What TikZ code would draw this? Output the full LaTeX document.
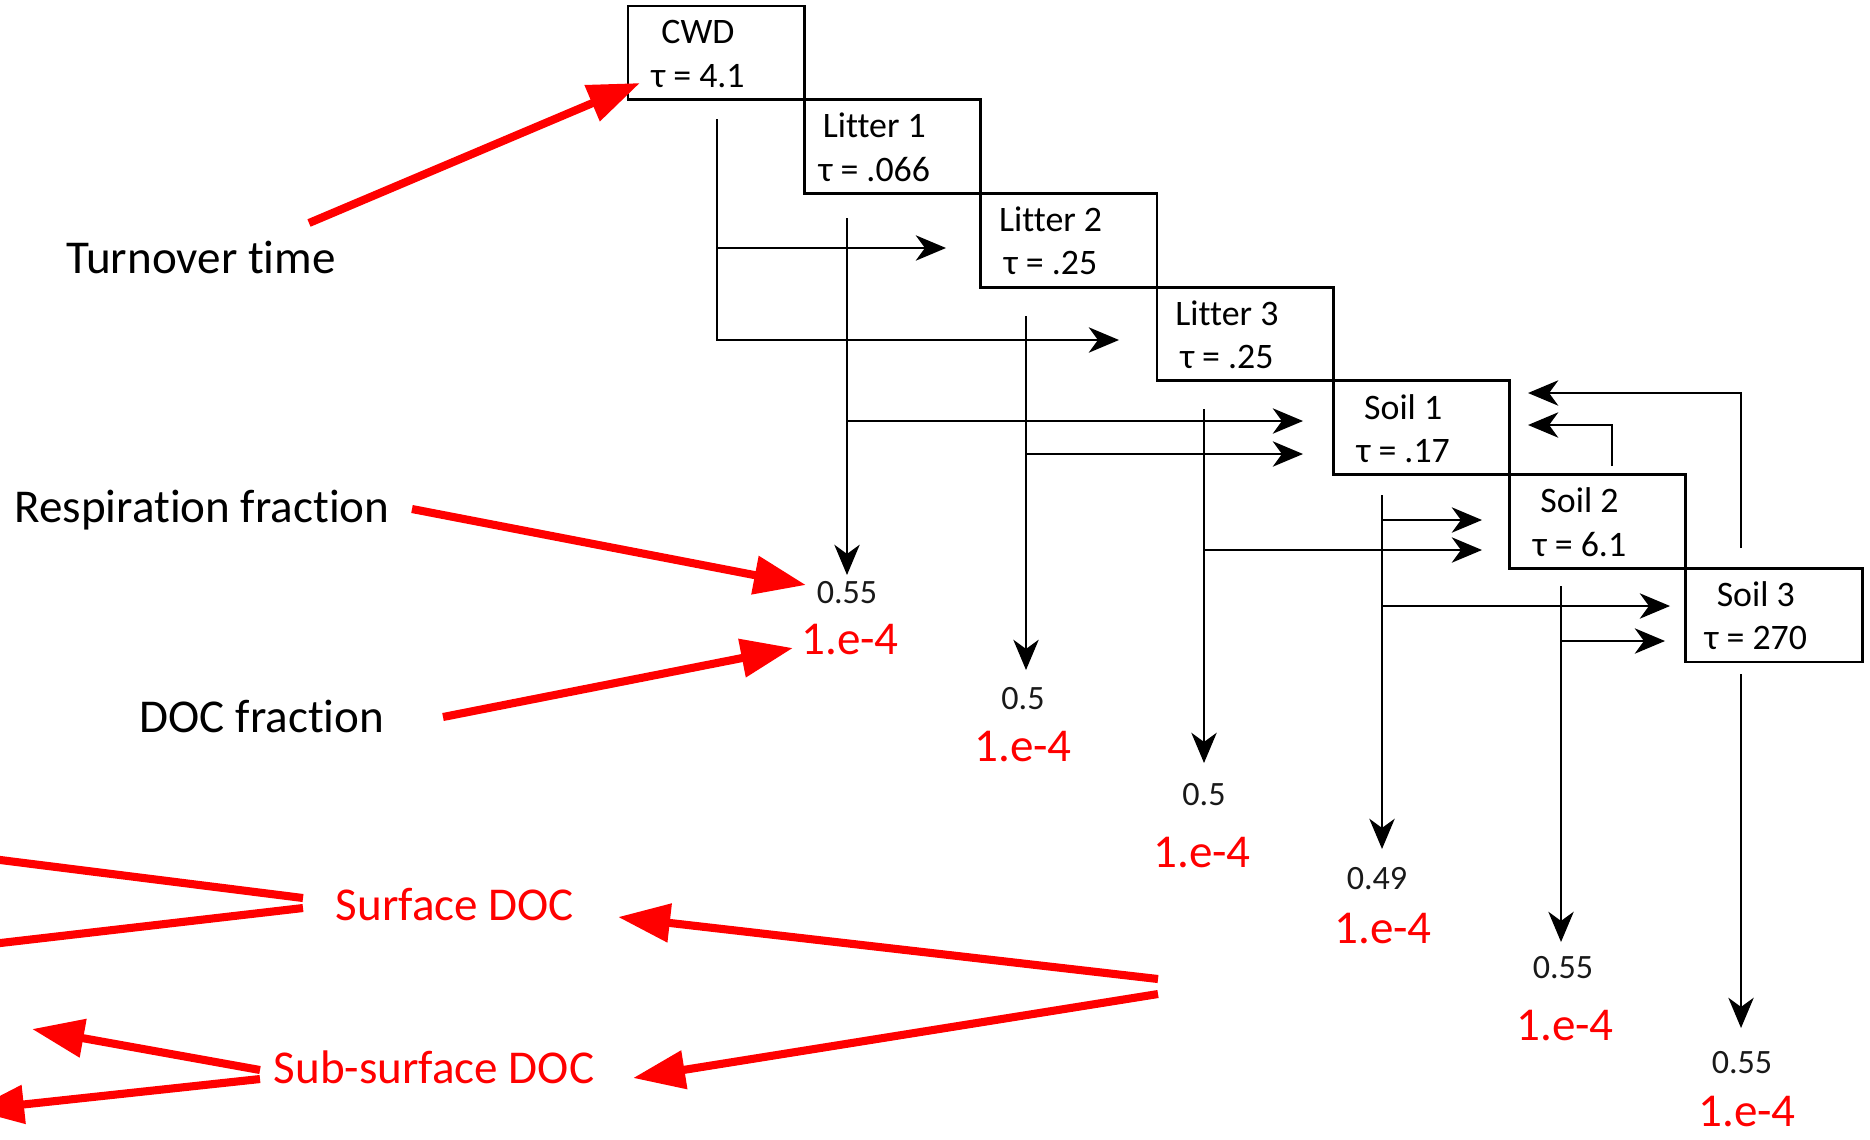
\documentclass[tikz,border=0pt]{standalone}
\usepackage{fontspec}
\setmainfont{Carlito}[Ligatures=NoCommon,RawFeature={-calt}]
\usetikzlibrary{arrows.meta,calc}
\definecolor{rd}{RGB}{255,0,0}
\tikzset{
  poolbox/.style={draw, line width=0.8pt, minimum width=17.63mm, minimum height=9.37mm, inner sep=0pt},
  pooltxt/.style={inner sep=0pt, font=\fontsize{10.2}{12}\selectfont},
  flow/.style={line width=0.7pt, -{Stealth[length=8.6pt,width=7.2pt,inset=2.6pt]}},
  resplab/.style={inner sep=0pt, font=\fontsize{9.7}{11}\selectfont, text=black!90},
  doclab/.style={inner sep=0pt, font=\fontsize{13.4}{15}\selectfont, text=rd},
  note/.style={inner sep=0pt, font=\fontsize{13.4}{15}\selectfont, anchor=base},
  rednote/.style={note, text=rd},
  redarrow/.style={draw=rd, line width=2.3pt, -{Triangle[length=14.8pt,width=10.6pt]}},
  redline/.style={draw=rd, line width=2.3pt},
}
\newcommand\mkpool[5]{%
  \node[poolbox] (#1) at ({#2+88.15},{#3+46.85}) {};
  \node[pooltxt] (#1n) at ({#2+70},{#3+26}) {#4};
  \node[pooltxt] (#1t) at ({#2+70},{#3+70}) {#5};}
\newcommand\tsep{t\kern0pt }
\begin{document}
\begin{tikzpicture}[x=0.1mm,y=-0.1mm]
\path[clip] (0,0) rectangle (1870,1139);

% pools
\mkpool{cwd}{628}{6}{CWD}{τ = 4.1}
\mkpool{lit1}{804.3}{99.7}{Litter 1}{τ = .066}
\mkpool{lit2}{980.6}{193.4}{Litter 2}{τ = .25}
\mkpool{lit3}{1156.9}{287.1}{Litter 3}{τ = .25}
\mkpool{soil1}{1333.2}{380.8}{Soil 1}{τ = .17}
\mkpool{soil2}{1509.5}{474.5}{Soil 2}{τ = 6.1}
\mkpool{soil3}{1685.8}{568.2}{Soil 3}{τ = 270}

% respiration / DOC labels
\node[resplab] (r1) at (847,593) {0.55};
\node[doclab]  (d1) at (850,640) {1.e-4};
\node[resplab] (r2) at (1023,699) {0.5};
\node[doclab]  (d2) at (1023,747) {1.e-4};
\node[resplab] (r3) at (1204,795) {0.5};
\node[doclab]  (d3) at (1202,853) {1.e-4};
\node[resplab] (r4) at (1377,879) {0.49};
\node[doclab]  (d4) at (1383,929) {1.e-4};
\node[resplab] (r5) at (1563,968) {0.55};
\node[doclab]  (d5) at (1565,1026) {1.e-4};
\node[resplab] (r6) at (1742,1063) {0.55};
\node[doclab]  (d6) at (1747,1112) {1.e-4};

% flow coordinates
\coordinate (cwdo) at (717,119);
\coordinate (cwdb) at (717,248);
\coordinate (l2in) at (946,248);
\coordinate (l3in) at (1119,340);
\coordinate (l1o) at (847,218);
\coordinate (l1r) at (847,575);
\coordinate (l1b) at (847,421);
\coordinate (s1inA) at (1303,421);
\coordinate (l2o) at (1026,316);
\coordinate (l2r) at (1026,670);
\coordinate (l2b) at (1026,454);
\coordinate (s1inB) at (1303,454);
\coordinate (l3o) at (1204,409);
\coordinate (l3r) at (1204,763);
\coordinate (l3b) at (1204,550);
\coordinate (s2inB) at (1482,550);
\coordinate (s1o) at (1382,495);
\coordinate (s1r) at (1382,849);
\coordinate (s1bA) at (1382,520);
\coordinate (s2inA) at (1482,520);
\coordinate (s1bB) at (1382,606);
\coordinate (s3inA) at (1670,606);
\coordinate (s2o) at (1561,586);
\coordinate (s2r) at (1561,942);
\coordinate (s2b) at (1561,641);
\coordinate (s3inB) at (1665,641);
\coordinate (s2up) at (1612,466);
\coordinate (s1retB) at (1528,425);
\coordinate (s3o) at (1741,674);
\coordinate (s3r) at (1741,1028);
\coordinate (s3up) at (1741,548);
\coordinate (s1retA) at (1528,393);

% flows
\draw[flow] (cwdo) |- (l3in);
\draw[flow] (cwdb) -- (l2in);
\draw[flow] (l1o) -- (l1r);
\draw[flow] (l1b) -- (s1inA);
\draw[flow] (l2o) -- (l2r);
\draw[flow] (l2b) -- (s1inB);
\draw[flow] (l3o) -- (l3r);
\draw[flow] (l3b) -- (s2inB);
\draw[flow] (s1o) -- (s1r);
\draw[flow] (s1bA) -- (s2inA);
\draw[flow] (s1bB) -- (s3inA);
\draw[flow] (s2o) -- (s2r);
\draw[flow] (s2b) -- (s3inB);
\draw[flow] (s2up) |- (s1retB);
\draw[flow] (s3o) -- (s3r);
\draw[flow] (s3up) |- (s1retA);

% annotations
\node[note] (turn) at (201,273) {Turnover \tsep ime};
\node[note] (respn) at (202,522) {Respira\tsep ion frac\tsep ion};
\node[note] (docn) at (262,732) {DOC frac\tsep ion};
\node[rednote] (surf) at (455,920) {Surface DOC};
\node[rednote] (subs) at (434,1083) {Sub-surface DOC};

\coordinate (turnA) at (309,223);
\coordinate (turnB) at (640,83);
\coordinate (respA) at (412,509);
\coordinate (respB) at (806,585);
\coordinate (docA) at (443,717);
\coordinate (docB) at (793,648);
\coordinate (surfA) at (303,898);
\coordinate (surfAx) at (-10,858.7);
\coordinate (surfB) at (303,908);
\coordinate (surfBx) at (-10,944.2);
\coordinate (srcA) at (1158,979);
\coordinate (srcB) at (1158,994);
\coordinate (surfIn) at (618,917);
\coordinate (subsIn) at (633,1078);
\coordinate (subsA) at (260,1070);
\coordinate (subsAx) at (32,1029);
\coordinate (subsB) at (260,1079);
\coordinate (subsBx) at (-28,1110);

\draw[redarrow] (turnA) -- (turnB);
\draw[redarrow] (respA) -- (respB);
\draw[redarrow] (docA) -- (docB);
\draw[redline] (surfA) -- (surfAx);
\draw[redline] (surfB) -- (surfBx);
\draw[redarrow] (srcA) -- (surfIn);
\draw[redarrow] (srcB) -- (subsIn);
\draw[redarrow] (subsA) -- (subsAx);
\draw[redarrow] (subsB) -- (subsBx);
\end{tikzpicture}
\end{document}
